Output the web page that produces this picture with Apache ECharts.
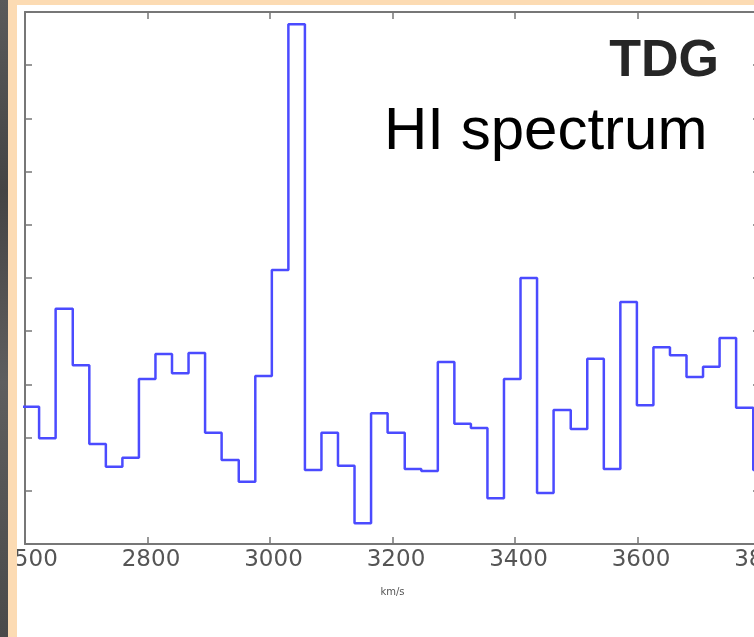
<!DOCTYPE html>
<html>
<head>
<meta charset="utf-8">
<title>TDG HI spectrum</title>
<script src="https://cdn.jsdelivr.net/npm/echarts@6/dist/echarts.min.js"></script>
<style>
  html, body { margin: 0; padding: 0; background: #ffffff; overflow: hidden; }
  #chart { width: 754px; height: 637px; }
</style>
</head>
<body>
<div id="chart"></div>
<script>
// channel edges in km/s (left edge of each bin, plus the last right edge)
const velocityEdges = [
    2596, 2623, 2650, 2678, 2705, 2732, 2759, 2786, 2813, 2840,
    2867, 2894, 2921, 2949, 2976, 3003, 3030, 3057, 3084, 3111,
    3138, 3165, 3192, 3220, 3247, 3274, 3301, 3328, 3355, 3382,
    3409, 3436, 3463, 3491, 3518, 3545, 3572, 3599, 3626, 3653,
    3680, 3707, 3734, 3761, 3789, 3816
];

// flux per channel (arbitrary units, one unit per y tick)
const fluxValues = [
    2.58, 1.99, 4.42, 3.36, 1.88, 1.45, 1.62, 3.10, 3.57, 3.21,
    3.59, 2.09, 1.58, 1.17, 3.16, 5.15, 9.77, 1.39, 2.09, 1.47,
    0.39, 2.46, 2.09, 1.41, 1.37, 3.42, 2.26, 2.18, 0.86, 3.10,
    5.00, 0.96, 2.52, 2.16, 3.48, 1.41, 4.55, 2.61, 3.70, 3.55,
    3.14, 3.33, 3.87, 2.56, 1.39
];

// tick positions and the labels printed under them (first one is cut by the frame)
const xTicks = [2600, 2800, 3000, 3200, 3400, 3600, 3800];
const xTickLabels = ['2500', '2800', '3000', '3200', '3400', '3600', '3800'];
const titleText = 'TDG';
const subtitleText = 'HI spectrum';
const xAxisName = 'km/s';

const axisColor = '#777777';
const labelColor = '#555555';
const lineColor = '#4b4bff';

const stepData = velocityEdges.map(function (v, i) {
    return [v, fluxValues[Math.min(i, fluxValues.length - 1)]];
});

const tickStyle = { show: true, inside: true, length: 7, lineStyle: { color: axisColor, width: 1.5 } };
const lineStyleAxis = { show: true, onZero: false, lineStyle: { color: axisColor, width: 2 } };

const chart = echarts.init(document.getElementById('chart'), null, { renderer: 'canvas' });

chart.setOption({
    animation: false,
    backgroundColor: '#ffffff',
    grid: { left: 25, top: 12, width: 735, height: 532, containLabel: false, outerBoundsMode: 'none' },
    xAxis: [
        {
            type: 'value',
            position: 'bottom',
            min: xTicks[0],
            max: xTicks[xTicks.length - 1],
            interval: 200,
            axisLine: lineStyleAxis,
            axisTick: tickStyle,
            splitLine: { show: false },
            axisLabel: {
                show: true,
                color: labelColor,
                fontFamily: 'DejaVu Sans',
                fontSize: 23,
                margin: 5,
                padding: [0, 0, 0, 7],
                showMinLabel: true,
                showMaxLabel: true,
                hideOverlap: false,
                formatter: function (v) {
                    const i = xTicks.indexOf(v);
                    return i >= 0 ? xTickLabels[i] : String(v);
                }
            },
            name: xAxisName,
            nameLocation: 'middle',
            nameGap: 43,
            nameTextStyle: { color: labelColor, fontFamily: 'DejaVu Sans', fontSize: 10 }
        },
        {
            type: 'value',
            position: 'top',
            min: xTicks[0],
            max: xTicks[xTicks.length - 1],
            interval: 200,
            axisLine: lineStyleAxis,
            axisTick: tickStyle,
            splitLine: { show: false },
            axisLabel: { show: false }
        }
    ],
    yAxis: [
        {
            type: 'value',
            position: 'left',
            min: 0,
            max: 10,
            interval: 1,
            axisLine: lineStyleAxis,
            axisTick: tickStyle,
            splitLine: { show: false },
            axisLabel: { show: false }
        },
        {
            type: 'value',
            position: 'right',
            min: 0,
            max: 10,
            interval: 1,
            axisLine: lineStyleAxis,
            axisTick: tickStyle,
            splitLine: { show: false },
            axisLabel: { show: false }
        }
    ],
    series: [
        {
            type: 'line',
            xAxisIndex: 0,
            yAxisIndex: 0,
            step: 'end',
            data: stepData,
            showSymbol: false,
            clip: true,
            lineStyle: { color: lineColor, width: 2.5 }
        }
    ],
    graphic: [
        {
            type: 'text',
            right: 35,
            top: 36,
            z: 50,
            style: {
                text: titleText,
                font: 'bold 52px "Liberation Sans", Arial, sans-serif',
                fill: '#262626'
            }
        },
        {
            type: 'text',
            left: 384,
            top: 102,
            z: 50,
            style: {
                text: subtitleText,
                font: '60px "Liberation Sans", Arial, sans-serif',
                fill: '#000000'
            }
        },
        // slide border: dark strip, peach frame
        {
            type: 'rect',
            z: 100,
            shape: { x: 0, y: 0, width: 8, height: 637 },
            style: {
                fill: new echarts.graphic.LinearGradient(0, 0, 0, 1, [
                    { offset: 0, color: '#5a5a5a' },
                    { offset: 0.3, color: '#444444' },
                    { offset: 0.6, color: '#5e5e5e' },
                    { offset: 1, color: '#4a4a4a' }
                ])
            }
        },
        {
            type: 'rect',
            z: 100,
            shape: { x: 8, y: 0, width: 9, height: 637 },
            style: { fill: '#fcdbb3' }
        },
        {
            type: 'rect',
            z: 100,
            shape: { x: 8, y: 0, width: 746, height: 5 },
            style: { fill: '#fcdbb3' }
        }
    ]
});
</script>
</body>
</html>
